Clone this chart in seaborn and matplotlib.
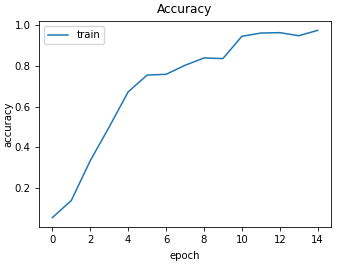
import pandas as pd
import matplotlib
matplotlib.use("Agg")
import matplotlib.pyplot as plt
import seaborn as sns

# Dados
epochs = list(range(15))
accuracy = [0.056, 0.14, 0.335, 0.50, 0.672, 0.754, 0.758, 0.802, 0.838, 0.835,
            0.944, 0.960, 0.962, 0.947, 0.973]

df = pd.DataFrame({'epoch': epochs, 'accuracy': accuracy})

scale = 0.73
plt.rcParams.update({
    'font.size': 10 * scale,
    'axes.linewidth': 0.8 * scale,
    'xtick.major.width': 0.8 * scale,
    'ytick.major.width': 0.8 * scale,
    'xtick.major.size': 3.5 * scale,
    'ytick.major.size': 3.5 * scale,
})

fig, ax = plt.subplots(figsize=(3.37, 2.63), dpi=100)
fig.subplots_adjust(left=0.116, right=0.982, top=0.92, bottom=0.137)

sns.lineplot(data=df, x='epoch', y='accuracy', ax=ax, color='#1f77b4',
             linewidth=1.5 * scale, label='train')

ax.set_title('Accuracy', fontsize=12 * scale)
ax.set_xlabel('epoch')
ax.set_ylabel('accuracy', labelpad=1)
ax.set_xticks(range(0, 15, 2))
ax.legend(loc='upper left')

fig.savefig('out.png')
